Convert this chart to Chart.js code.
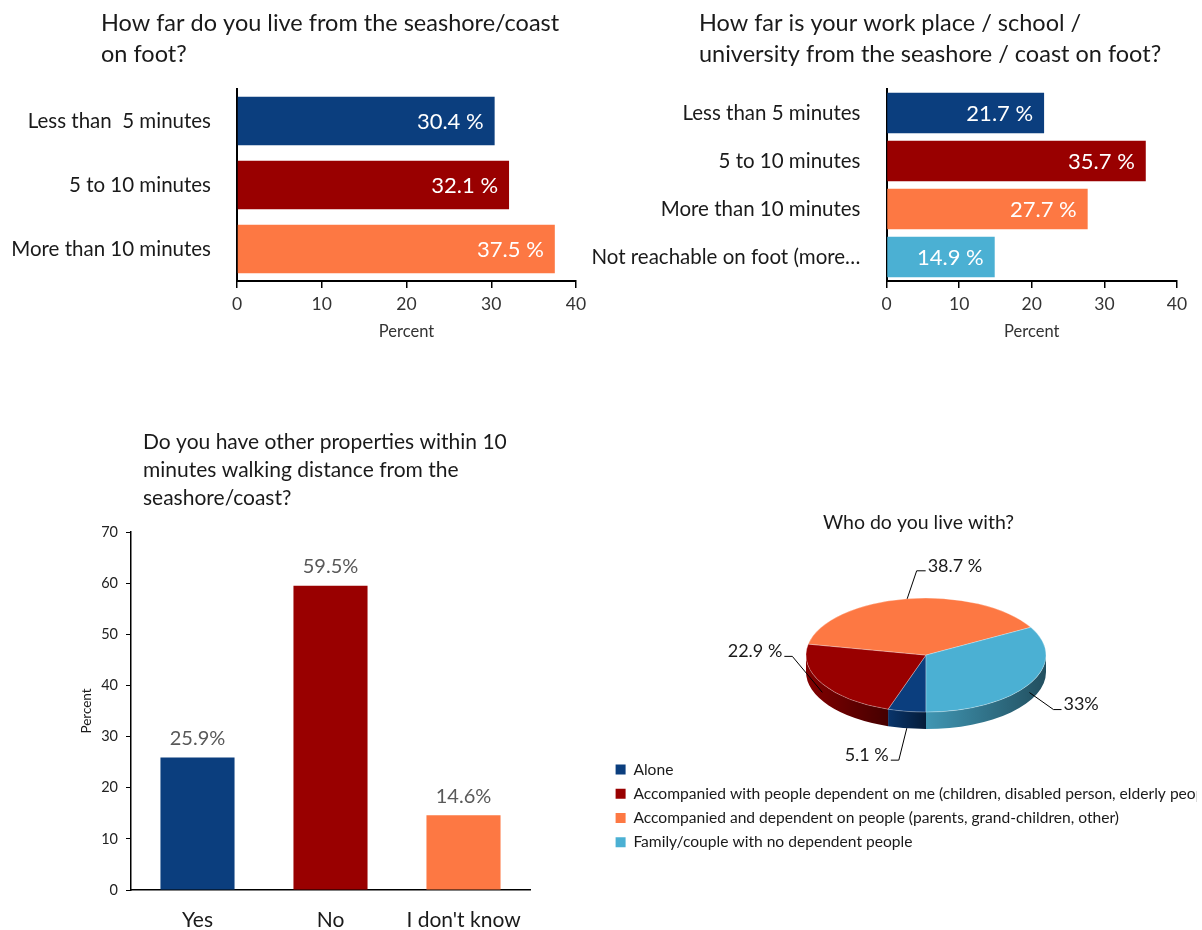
<!DOCTYPE html>
<html>
<head>
<meta charset="utf-8">
<title>Seashore survey</title>
<script src="https://cdn.jsdelivr.net/npm/chart.js@4.4.1/dist/chart.umd.min.js"></script>
<style>
  html, body { margin: 0; padding: 0; background: #fff; overflow: hidden; }
  .panel { position: absolute; overflow: hidden; }
  canvas { display: block; }
</style>
</head>
<body>
<div class="panel" style="left:0;top:0;width:600px;height:360px"><canvas id="homeChart" width="600" height="360"></canvas></div>
<div class="panel" style="left:580px;top:0;width:622px;height:360px"><canvas id="workChart" width="622" height="360"></canvas></div>
<div class="panel" style="left:60px;top:420px;width:500px;height:510px"><canvas id="propertyChart" width="500" height="510"></canvas></div>
<div class="panel" style="left:607px;top:500px;width:590px;height:430px"><canvas id="householdChart" width="638" height="430"></canvas></div>

<script>
// ---------- data ----------
const homeTitle = ['How far do you live from the seashore/coast', 'on foot?'];
const homeLabels = ['Less than  5 minutes', '5 to 10 minutes', 'More than 10 minutes'];
const homeValues = [30.4, 32.1, 37.5];

const workTitle = ['How far is your work place / school /', 'university from the seashore / coast on foot?'];
const workLabels = ['Less than 5 minutes', '5 to 10 minutes', 'More than 10 minutes', 'Not reachable on foot (more\u2026'];
const workValues = [21.7, 35.7, 27.7, 14.9];

const percentTicks = [0, 10, 20, 30, 40];

const propertyTitle = ['Do you have other properties within 10', 'minutes walking distance from the', 'seashore/coast?'];
const propertyLabels = ['Yes', 'No', "I don't know"];
const propertyValues = [25.9, 59.5, 14.6];
const propertyTicks = [0, 10, 20, 30, 40, 50, 60, 70];

const householdTitle = 'Who do you live with?';
const householdLabels = [
  'Alone',
  'Accompanied with people dependent on me (children, disabled person, elderly people)',
  'Accompanied and dependent on people (parents, grand-children, other)',
  'Family/couple with no dependent people'
];
const householdValues = [5.1, 22.9, 38.7, 33];

// ---------- styling ----------
const FONT = 'Lato, "Open Sans", sans-serif';
const NAVY = '#0b3e7e';
const CRIMSON = '#990000';
const CORAL = '#fd7843';
const SKY = '#4bb0d3';
const INK = '#1a1a1a';

Chart.defaults.font.family = FONT;
Chart.defaults.animation = false;
Chart.defaults.events = [];

function shade(hex, f) {
  const n = parseInt(hex.slice(1), 16);
  const r = Math.round(((n >> 16) & 255) * f);
  const g = Math.round(((n >> 8) & 255) * f);
  const b = Math.round((n & 255) * f);
  return `rgb(${r},${g},${b})`;
}

// multi-line heading drawn at a fixed spot on the canvas
function heading(lines, x, y, lineHeight, size, align) {
  return {
    id: 'heading',
    afterDraw(chart) {
      const ctx = chart.ctx;
      ctx.save();
      ctx.font = `${size}px ${FONT}`;
      ctx.fillStyle = INK;
      ctx.textAlign = align || 'left';
      ctx.textBaseline = 'middle';
      [].concat(lines).forEach((line, i) => ctx.fillText(line, x, y + i * lineHeight));
      ctx.restore();
    }
  };
}

// white value text inside the end of each horizontal bar
const insideLabels = {
  id: 'insideLabels',
  afterDatasetsDraw(chart) {
    const ctx = chart.ctx;
    const values = chart.data.datasets[0].data;
    ctx.save();
    ctx.font = `22px ${FONT}`;
    ctx.fillStyle = '#fff';
    ctx.textAlign = 'right';
    ctx.textBaseline = 'middle';
    chart.getDatasetMeta(0).data.forEach((bar, i) => {
      ctx.fillText(values[i].toFixed(1) + ' %', bar.x - 11, bar.y + 1);
    });
    ctx.restore();
  }
};

// grey value text above each column
const topLabels = {
  id: 'topLabels',
  afterDatasetsDraw(chart) {
    const ctx = chart.ctx;
    const values = chart.data.datasets[0].data;
    ctx.save();
    ctx.font = `20px ${FONT}`;
    ctx.fillStyle = '#595959';
    ctx.textAlign = 'center';
    ctx.textBaseline = 'middle';
    chart.getDatasetMeta(0).data.forEach((bar, i) => {
      ctx.fillText(values[i].toFixed(1) + '%', bar.x, bar.y - 19);
    });
    ctx.restore();
  }
};

function hbarOptions(axisLeft, rightPad) {
  return {
    responsive: false,
    indexAxis: 'y',
    layout: { padding: { top: 89, right: rightPad, bottom: 0, left: 0 } },
    plugins: { legend: { display: false }, tooltip: { enabled: false } },
    scales: {
      x: {
        min: percentTicks[0],
        max: percentTicks[percentTicks.length - 1],
        ticks: { stepSize: percentTicks[1] - percentTicks[0], color: '#333', font: { size: 17.5 }, padding: 6 },
        grid: { drawOnChartArea: false, drawTicks: true, tickLength: 7, color: '#000', lineWidth: 1.5 },
        border: { color: '#000', width: 2 },
        title: { display: true, text: 'Percent', color: '#333', font: { size: 16.5 }, padding: { top: 4, bottom: 18 } },
        afterFit: s => { s.height = 79; }
      },
      y: {
        grid: { display: false, drawTicks: false },
        border: { color: '#000', width: 2 },
        ticks: { color: INK, font: { size: 20.5 }, padding: 26 },
        afterFit: s => { s.width = axisLeft; }
      }
    }
  };
}

// 1. distance from home (horizontal bars)
new Chart(document.getElementById('homeChart'), {
  type: 'bar',
  data: {
    labels: homeLabels,
    datasets: [{ data: homeValues, backgroundColor: [NAVY, CRIMSON, CORAL], barPercentage: 0.76, categoryPercentage: 1 }]
  },
  options: hbarOptions(237, 24),
  plugins: [heading(homeTitle, 101, 23.5, 31, 23.5), insideLabels]
});

// 2. distance from work / school (horizontal bars)
new Chart(document.getElementById('workChart'), {
  type: 'bar',
  data: {
    labels: workLabels,
    datasets: [{ data: workValues, backgroundColor: [NAVY, CRIMSON, CORAL, SKY], barPercentage: 0.84, categoryPercentage: 1 }]
  },
  options: hbarOptions(306.5, 25),
  plugins: [heading(workTitle, 119, 23.5, 31, 23.5), insideLabels]
});

// 3. other properties near the coast (columns)
new Chart(document.getElementById('propertyChart'), {
  type: 'bar',
  data: {
    labels: propertyLabels,
    datasets: [{ data: propertyValues, backgroundColor: [NAVY, CRIMSON, CORAL], barPercentage: 0.557, categoryPercentage: 1 }]
  },
  options: {
    responsive: false,
    layout: { padding: { top: 112, right: 30, bottom: 0, left: 0 } },
    plugins: { legend: { display: false }, tooltip: { enabled: false } },
    scales: {
      x: {
        grid: { display: false, drawTicks: false },
        border: { color: '#000', width: 1.5 },
        ticks: { color: INK, font: { size: 21 }, padding: 18 },
        afterFit: s => { s.height = 40; }
      },
      y: {
        min: propertyTicks[0],
        max: propertyTicks[propertyTicks.length - 1],
        ticks: { stepSize: propertyTicks[1] - propertyTicks[0], color: '#222', font: { size: 14.5 }, padding: 8 },
        grid: { drawOnChartArea: false, tickLength: 5, color: '#000', lineWidth: 1 },
        border: { color: '#000', width: 1.5 },
        title: { display: true, text: 'Percent', color: INK, font: { size: 13.5 }, padding: { top: 19, bottom: 0 } },
        afterFit: s => { s.width = 71; }
      }
    }
  },
  plugins: [heading(propertyTitle, 83, 22.7, 27.7, 21), topLabels]
});

// 4. household (pie tilted into an ellipse with a front wall)
const TILT = 0.475;
const DEPTH = 17;

const pieLabelText = v => Number.isInteger(v) ? v + '%' : v.toFixed(1) + ' %';

// elbow offset from the slice rim, then the short horizontal tail
const leaderOffsets = [[-8, 32, -8], [-30, -36, -8], [9.5, -28, 9], [24, 17, 8]];

const tiltedPie = {
  id: 'tiltedPie',
  beforeDatasetsDraw(chart) {
    const ctx = chart.ctx;
    const arcs = chart.getDatasetMeta(0).data;
    const colors = chart.data.datasets[0].backgroundColor;
    const { x: cx, y: cy, outerRadius: r } = arcs[0];
    const ry = r * TILT;

    // front wall: the parts of each slice that face down (0..PI)
    arcs.forEach((arc, i) => {
      for (let k = -1; k <= 2; k++) {
        const a = Math.max(arc.startAngle, 2 * Math.PI * k);
        const b = Math.min(arc.endAngle, 2 * Math.PI * k + Math.PI);
        if (b <= a) continue;
        const x0 = cx + r * Math.cos(b), x1 = cx + r * Math.cos(a);
        const grad = ctx.createLinearGradient(Math.min(x0, x1), 0, Math.max(x0, x1), 0);
        grad.addColorStop(0, shade(colors[i], 0.85));
        grad.addColorStop(1, shade(colors[i], 0.45));
        ctx.beginPath();
        ctx.ellipse(cx, cy + DEPTH, r, ry, 0, a, b);
        ctx.lineTo(cx + r * Math.cos(b), cy + ry * Math.sin(b));
        ctx.ellipse(cx, cy, r, ry, 0, b, a, true);
        ctx.closePath();
        ctx.fillStyle = grad;
        ctx.fill();
      }
    });

    // squash the top face; undone after the datasets are drawn
    ctx.save();
    ctx.translate(cx, cy);
    ctx.scale(1, TILT);
    ctx.translate(-cx, -cy);
  },
  afterDatasetsDraw(chart) {
    const ctx = chart.ctx;
    ctx.restore();

    const arcs = chart.getDatasetMeta(0).data;
    const values = chart.data.datasets[0].data;
    const { x: cx, y: cy, outerRadius: r } = arcs[0];
    const ry = r * TILT;

    ctx.save();
    ctx.strokeStyle = '#000';
    ctx.lineWidth = 1;
    ctx.font = `18px ${FONT}`;
    ctx.fillStyle = INK;
    ctx.textBaseline = 'middle';
    arcs.forEach((arc, i) => {
      const mid = (arc.startAngle + arc.endAngle) / 2;
      const s = Math.sin(mid);
      const ax = cx + r * Math.cos(mid);
      const ay = cy + ry * s + (s > 0 ? DEPTH * s : 0);
      const [dx, dy, tail] = leaderOffsets[i];
      const ex = ax + dx, ey = ay + dy;
      ctx.beginPath();
      ctx.moveTo(ax, ay);
      ctx.lineTo(ex, ey);
      ctx.lineTo(ex + tail, ey);
      ctx.stroke();
      ctx.textAlign = tail < 0 ? 'right' : 'left';
      ctx.fillText(pieLabelText(values[i]), ex + tail + Math.sign(tail) * 2, ey - 5);
    });
    ctx.restore();
  }
};

new Chart(document.getElementById('householdChart'), {
  type: 'pie',
  data: {
    labels: householdLabels,
    datasets: [{
      data: householdValues,
      backgroundColor: [NAVY, CRIMSON, CORAL, SKY],
      borderColor: 'rgba(255,255,255,0.4)',
      borderWidth: 1,
      radius: 120,
      clip: false
    }]
  },
  options: {
    responsive: false,
    rotation: 180,
    layout: { padding: { top: 57, right: 0, bottom: 70, left: 0 } },
    plugins: {
      tooltip: { enabled: false },
      legend: {
        position: 'bottom',
        align: 'start',
        labels: {
          color: INK,
          font: { size: 15.6 },
          boxWidth: 10,
          boxHeight: 10,
          padding: 8.6,
          generateLabels: chart => Chart.overrides.pie.plugins.legend.labels.generateLabels(chart)
            .map(item => Object.assign(item, { lineWidth: 0 }))
        }
      }
    }
  },
  plugins: [heading(householdTitle, 311.5, 23, 0, 19.5, 'center'), tiltedPie]
});
</script>
</body>
</html>
